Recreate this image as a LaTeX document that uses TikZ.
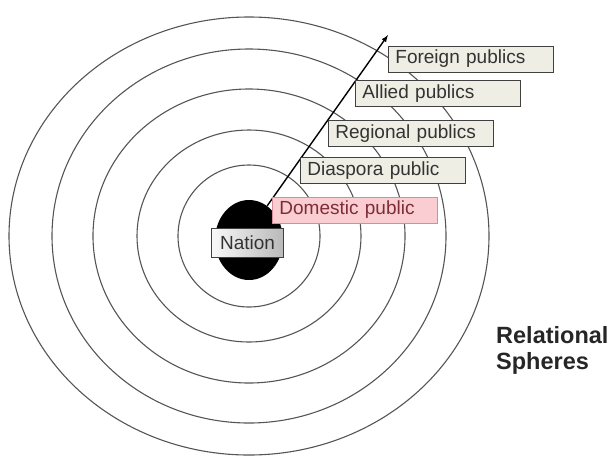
\documentclass[tikz,border=0pt]{standalone}
\usepackage{fontspec}
\setmainfont{Liberation Sans}
\usepackage{xcolor}
\usepackage{tikz}
\usetikzlibrary{positioning,arrows,shapes.geometric}

\definecolor{ringgray}{RGB}{85,85,85}
\definecolor{boxfill}{RGB}{238,238,229}
\definecolor{domfill}{RGB}{250,205,210}
\definecolor{domdraw}{RGB}{215,140,150}
\definecolor{domtext}{RGB}{125,45,55}

\begin{document}
\begin{tikzpicture}[x=1pt,y=-1pt]
        \tikzstyle{ring}=[draw=ringgray,line width=1.1pt]
        \tikzstyle{public}=[draw=black!75,thick,fill=boxfill,text=black!80,text width=151pt,align=left,inner xsep=7pt,inner ysep=0pt,minimum height=26pt,anchor=west,font=\fontsize{19}{21}\selectfont]
        \useasboundingbox (0,0) rectangle (609,456);
        % the spheres
        \coordinate (mid) at (249,236);
        \foreach \rx/\ry in {71/71,112/106,156/147,197/187,240/219}
            \draw[ring] (mid) ellipse [x radius=\rx pt, y radius=\ry pt];
        \node[ellipse,fill=black,minimum width=68pt,minimum height=80pt,inner sep=0pt] (core) at (249,240) {};
        % outward arrow
        \coordinate (tip) at (388,35);
        \draw[-latex,line width=1.4pt] (core.62) -- (tip);
        \node[draw=black!75,thick,left color=gray!5,right color=gray!55,minimum width=72pt,minimum height=29pt,inner sep=0pt,font=\fontsize{19}{21}\selectfont,text=black!80] (nation) at (247.5,243) {Nation};
        \node[public,fill=domfill,draw=domdraw,text=domtext] (domestic) at (272,210) {Domestic public};
        \node[public] (diaspora) at (300,170.5) {Diaspora public};
        \node[public] (regional) at (328,133.5) {Regional publics};
        \node[public] (allied) at (355,93.5) {Allied publics};
        \node[public] (foreign) at (388,59) {Foreign publics};
        \node[anchor=north west,inner sep=0pt,align=left,font=\bfseries\fontsize{23.5}{26}\selectfont,text=black!85] (spheres) at (496,326.5) {Relational\\Spheres};
    \end{tikzpicture}
\end{document}
